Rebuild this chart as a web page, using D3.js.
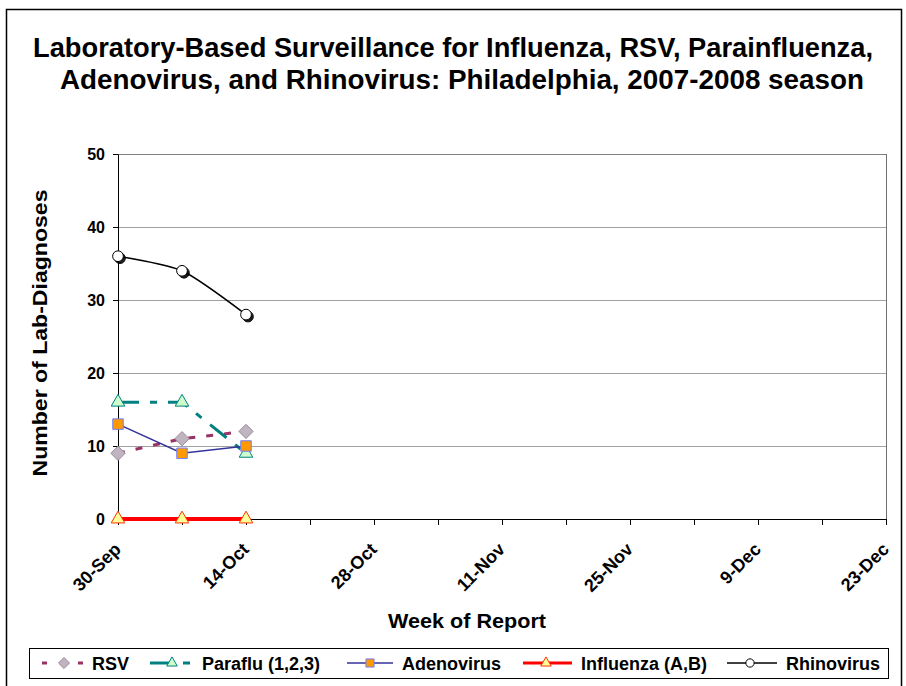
<!DOCTYPE html>
<html>
<head>
<meta charset="utf-8">
<script src="https://cdn.jsdelivr.net/npm/d3@7"></script>
<style>
  body { margin: 0; background: #fff; }
  text { font-family: Arial, "Liberation Sans", sans-serif; }
</style>
</head>
<body>
<script>
// week-ending dates with data so far
const weeks = ["2007-09-30", "2007-10-07", "2007-10-14"];
const rsv = [9, 11, 12];
const paraflu = [16, 16, 9];
const adenovirus = [13, 9, 10];
const influenza = [0, 0, 0];
const rhinovirus = [36, 34, 28];
const seriesNames = ["RSV", "Paraflu (1,2,3)", "Adenovirus", "Influenza (A,B)", "Rhinovirus"];
const yTicks = [0, 10, 20, 30, 40, 50];

const width = 906, height = 686;
const parse = d3.utcParse("%Y-%m-%d");
const fmt = d3.utcFormat("%-d-%b");

const svg = d3.select("body").append("svg")
    .attr("width", width)
    .attr("height", height);

// outer chart frame
svg.append("rect")
    .attr("x", 6.5).attr("y", 9.5)
    .attr("width", 895).attr("height", 690)
    .attr("fill", "#fff").attr("stroke", "#000").attr("stroke-width", 1.5);

svg.append("text")
    .attr("x", 453).attr("y", 57)
    .attr("text-anchor", "middle")
    .attr("textLength", 840).attr("lengthAdjust", "spacingAndGlyphs")
    .style("font-size", "27px").style("font-weight", "bold")
    .text("Laboratory-Based Surveillance for Influenza, RSV, Parainfluenza,");
svg.append("text")
    .attr("x", 462).attr("y", 89)
    .attr("text-anchor", "middle")
    .attr("textLength", 804).attr("lengthAdjust", "spacingAndGlyphs")
    .style("font-size", "27px").style("font-weight", "bold")
    .text("Adenovirus, and Rhinovirus: Philadelphia, 2007-2008 season");

const x = d3.scaleUtc()
    .domain([parse("2007-09-30"), parse("2007-12-23")])
    .range([118, 886]);
const y = d3.scaleLinear()
    .domain([0, 50])
    .range([519, 154]);

// gridlines
svg.append("g")
    .selectAll("line")
    .data(yTicks.slice(1))
    .join("line")
    .attr("x1", x.range()[0]).attr("x2", x.range()[1])
    .attr("y1", d => y(d) + 0.5).attr("y2", d => y(d) + 0.5)
    .attr("stroke", d => d === 50 ? "#808080" : "#a0a0a0")
    .attr("stroke-width", 1);

// right border of plot area
svg.append("line")
    .attr("x1", x.range()[1] + 0.5).attr("x2", x.range()[1] + 0.5)
    .attr("y1", y(50)).attr("y2", y(0))
    .attr("stroke", "#707070");

// y axis
const yAxis = svg.append("g")
    .attr("transform", `translate(${x.range()[0]},0)`)
    .call(d3.axisLeft(y).tickValues(yTicks).tickSize(5).tickSizeOuter(0).tickPadding(8));
yAxis.selectAll("text").style("font-size", "16px").style("font-weight", "bold").attr("fill", "#000");
yAxis.select(".domain").attr("stroke", "#000");

// x axis, a tick every week, a label every two weeks
const allWeeks = d3.utcSunday.range(parse("2007-09-30"), parse("2007-12-24"));
const xAxis = svg.append("g")
    .attr("transform", `translate(0,${y(0)})`)
    .call(d3.axisBottom(x).tickValues(allWeeks).tickSize(6).tickSizeOuter(0)
        .tickFormat((d, i) => i % 2 === 0 ? fmt(d) : ""));
xAxis.select(".domain").attr("stroke", "#000");
xAxis.selectAll(".tick line").attr("stroke", "#000");
xAxis.selectAll("text")
    .style("font-size", "18px").style("font-weight", "bold").attr("fill", "#000")
    .attr("text-anchor", "end")
    .attr("x", 0).attr("y", 0)
    .attr("dy", "0.35em")
    .attr("transform", "translate(-1,27) rotate(-45)");

svg.append("text")
    .attr("transform", "translate(47,333) rotate(-90)")
    .attr("text-anchor", "middle")
    .attr("textLength", 287).attr("lengthAdjust", "spacingAndGlyphs")
    .style("font-size", "21px").style("font-weight", "bold")
    .text("Number of Lab-Diagnoses");

svg.append("text")
    .attr("x", 467).attr("y", 628)
    .attr("text-anchor", "middle")
    .attr("textLength", 158).attr("lengthAdjust", "spacingAndGlyphs")
    .style("font-size", "21px").style("font-weight", "bold")
    .text("Week of Report");

const defs = svg.append("defs");
const sh = defs.append("filter").attr("id", "shadow").attr("x", "-50%").attr("y", "-50%").attr("width", "200%").attr("height", "200%");
sh.append("feDropShadow").attr("dx", 2).attr("dy", 2).attr("stdDeviation", 0.6).attr("flood-color", "#000").attr("flood-opacity", 0.9);

const series = [
  {name: seriesNames[0], values: rsv, color: "#993366", width: 3, dash: "7,11", legendDash: "5,13", curve: d3.curveLinear,
   symbol: d3.symbolDiamond2, size: 130, fill: "#c0b4c0", stroke: "#9a8a9a", shadow: false},
  {name: seriesNames[1], values: paraflu, color: "#008080", width: 3, dash: "21,11,7,11", legendDash: "22,11,7", curve: d3.curveLinear,
   symbol: d3.symbolTriangle, size: 80, fill: "#ccffcc", stroke: "#008080", shadow: false},
  {name: seriesNames[2], values: adenovirus, color: "#333399", width: 1.5, dash: null, legendDash: null, curve: d3.curveLinear,
   symbol: d3.symbolSquare, size: 110, fill: "#ff9900", stroke: "#6f7fff", shadow: false},
  {name: seriesNames[3], values: influenza, color: "#ff0000", width: 4, dash: null, legendDash: null, curve: d3.curveLinear,
   symbol: d3.symbolTriangle, size: 80, fill: "#ffff99", stroke: "#ff3300", shadow: false},
  {name: seriesNames[4], values: rhinovirus, color: "#000000", width: 1.5, dash: null, legendDash: null, curve: d3.curveCardinal.tension(0.3),
   symbol: d3.symbolCircle, size: 90, fill: "#ffffff", stroke: "#000", shadow: true}
];

const line = d3.line()
    .x((d, i) => x(parse(weeks[i])))
    .y(d => y(d));

series.forEach(s => {
  svg.append("path")
      .datum(s.values)
      .attr("fill", "none")
      .attr("stroke", s.color)
      .attr("stroke-width", s.width)
      .attr("stroke-dasharray", s.dash)
      .attr("d", line.curve(s.curve));
});

series.forEach(s => {
  svg.append("g")
      .selectAll("path")
      .data(s.values)
      .join("path")
      .attr("transform", (d, i) => `translate(${x(parse(weeks[i]))},${y(d)})`)
      .attr("d", d3.symbol(s.symbol, s.size))
      .attr("fill", s.fill)
      .attr("stroke", s.stroke)
      .attr("stroke-width", 1)
      .attr("filter", s.shadow ? "url(#shadow)" : null);
});

// legend
const lg = svg.append("g");
lg.append("rect")
    .attr("x", 29.5).attr("y", 648.5)
    .attr("width", 859).attr("height", 30)
    .attr("fill", "#fff").attr("stroke", "#000");

const legendX = [42, 150, 347, 523, 727];
const sampleW = [41, 40, 46, 49, 50];
const markerAt = [22, 22, 23, 23, 23];
series.forEach((s, i) => {
  const g = lg.append("g").attr("transform", `translate(${legendX[i]},663)`);
  g.append("line")
      .attr("x1", 0).attr("x2", sampleW[i])
      .attr("stroke", s.color)
      .attr("stroke-width", i === 2 || i === 4 ? 1.5 : 3)
      .attr("stroke-dasharray", s.legendDash);
  g.append("path")
      .attr("transform", `translate(${markerAt[i]},0)`)
      .attr("d", d3.symbol(s.symbol, s.size * 0.6))
      .attr("fill", s.fill)
      .attr("stroke", s.stroke);
  g.append("text")
      .attr("x", sampleW[i] + (i === 1 ? 12 : 9))
      .attr("y", 7)
      .style("font-size", "18px").style("font-weight", "bold")
      .text(s.name);
});
</script>
</body>
</html>
